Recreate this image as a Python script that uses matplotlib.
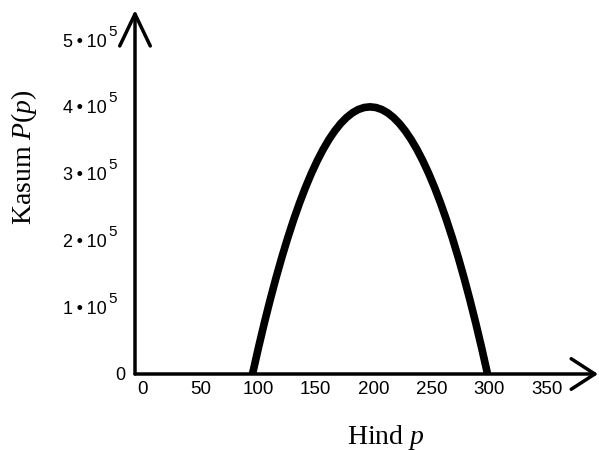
import matplotlib
matplotlib.use("Agg")
import matplotlib.pyplot as plt
from matplotlib.transforms import ScaledTranslation, blended_transform_factory

# Data
price = [100, 105, 110, 115, 120, 125, 130, 135, 140, 145, 150, 155, 160, 165, 170, 175,
         180, 185, 190, 195, 200, 205, 210, 215, 220, 225, 230, 235, 240, 245, 250, 255,
         260, 265, 270, 275, 280, 285, 290, 295, 300]
profit = [0, 39000, 76000, 111000, 144000, 175000, 204000, 231000, 256000, 279000, 300000,
          319000, 336000, 351000, 364000, 375000, 384000, 391000, 396000, 399000, 400000,
          399000, 396000, 391000, 384000, 375000, 364000, 351000, 336000, 319000, 300000,
          279000, 256000, 231000, 204000, 175000, 144000, 111000, 76000, 39000, 0]
x_ticks = [0, 50, 100, 150, 200, 250, 300, 350]
y_ticks = [0, 100000, 200000, 300000, 400000, 500000]
y_tick_main = ["0", "1\u2009\u2022\u200910", "2\u2009\u2022\u200910", "3\u2009\u2022\u200910",
               "4\u2009\u2022\u200910", "5\u2009\u2022\u200910"]
y_tick_exp = ["", "5", "5", "5", "5", "5"]

plt.rcParams['mathtext.fontset'] = 'custom'
plt.rcParams['mathtext.rm'] = 'Liberation Serif'
plt.rcParams['mathtext.it'] = 'Liberation Serif:italic'

sans = ['Liberation Sans', 'DejaVu Sans']

fig = plt.figure(figsize=(5.99, 4.5), dpi=100)
ax = fig.add_axes([135/599, 76/450, (598-135)/599, (374-10)/450])
xmax = 394
ymax = 545000
ax.set_xlim(0, xmax)
ax.set_ylim(0, ymax)

ax.plot(price, profit, color='black', lw=5.5, solid_capstyle='butt', solid_joinstyle='round')

for s in ax.spines.values():
    s.set_visible(False)

# axis arrows
ax.annotate('', xy=(xmax, 0), xytext=(0, 0), annotation_clip=False,
            arrowprops=dict(arrowstyle='->,head_length=1.7,head_width=1.1', lw=2.5, color='black',
                            shrinkA=0, shrinkB=0, mutation_scale=10))
ax.annotate('', xy=(0, ymax), xytext=(0, 0), annotation_clip=False,
            arrowprops=dict(arrowstyle='->,head_length=2.3,head_width=1.1', lw=2.5, color='black',
                            shrinkA=0, shrinkB=0, mutation_scale=10))

ax.set_xticks(x_ticks)
ax.set_xticklabels([str(v) for v in x_ticks], family=sans, fontsize=13.5)
ax.set_yticks(y_ticks)
ax.set_yticklabels(y_tick_main, family=sans, fontsize=13)
ax.tick_params(axis='both', length=0)
ax.tick_params(axis='x', pad=5)
ax.tick_params(axis='y', pad=20)

# slight nudges of the tick labels as in the reference
for v, lbl in zip(x_ticks, ax.get_xticklabels()):
    dx = (7.5 - 0.02 * v) / 100
    lbl.set_transform(lbl.get_transform() + ScaledTranslation(dx, 0, fig.dpi_scale_trans))
ylbls = ax.get_yticklabels()
ylbls[0].set_transform(ylbls[0].get_transform() + ScaledTranslation(0.18, 0, fig.dpi_scale_trans))

# exponents of the y tick labels
btr = blended_transform_factory(ax.transAxes, ax.transData)
for v, e in zip(y_ticks, y_tick_exp):
    if e:
        ax.text(0, v, e, family=sans, fontsize=11, ha='left', va='center',
                transform=btr + ScaledTranslation(-0.265, 0.085, fig.dpi_scale_trans))

ax.set_xlabel(r"Hind $p$", family='Liberation Serif', fontsize=20)
ax.xaxis.set_label_coords((386-135)/463, (374-437)/364)
ax.xaxis.label.set_va('center')
ax.set_ylabel(r"Kasum $P(p)$", family='Liberation Serif', fontsize=20)
ax.yaxis.set_label_coords((24-135)/463, (374-157)/364)
ax.yaxis.label.set_va('center')

fig.savefig("out.png", dpi=100)
